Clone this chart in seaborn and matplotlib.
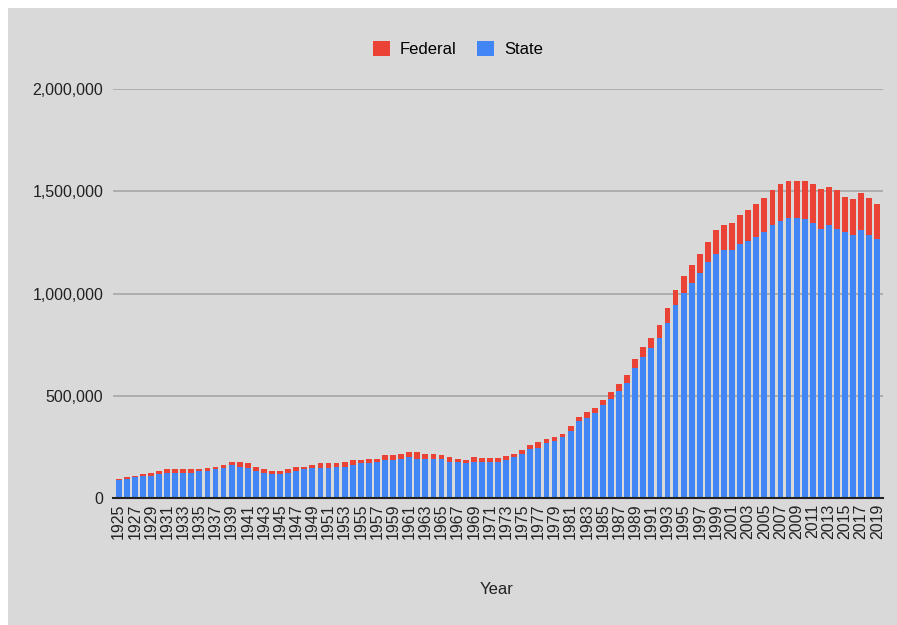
import numpy as np
import pandas as pd
import seaborn as sns
import matplotlib.pyplot as plt
from matplotlib.patches import Rectangle, Patch

# prisoners under jurisdiction (thousands)
years = list(range(1925, 2020))
state = [87, 95, 101, 108, 108, 116, 124, 124, 124, 124,
         131, 132, 140, 147, 161, 153, 147, 131, 124, 116,
         116, 124, 132, 140, 147, 147, 147, 153, 153, 161,
         170, 170, 178, 186, 186, 193, 200, 193, 193, 193,
         193, 178, 178, 170, 178, 176, 176, 176, 184, 200,
         214, 238, 246, 267, 279, 298, 328, 377, 390, 414,
         453, 483, 523, 561, 634, 691, 735, 781, 858, 944,
         1004, 1050, 1102, 1156, 1195, 1211, 1211, 1241, 1257, 1278,
         1301, 1333, 1355, 1371, 1369, 1363, 1347, 1317, 1333, 1317,
         1301, 1286, 1309, 1286, 1265]
federal = [6, 6, 9, 8, 16, 16, 16, 16, 16, 16,
           9, 15, 13, 14, 17, 25, 23, 22, 16, 14,
           14, 16, 21, 13, 14, 23, 23, 17, 25, 25,
           16, 23, 15, 23, 23, 22, 23, 30, 22, 22,
           16, 22, 15, 16, 22, 21, 21, 21, 21, 14,
           21, 20, 28, 23, 19, 17, 24, 21, 30, 28,
           26, 35, 33, 40, 44, 49, 49, 65, 73, 72,
           82, 88, 90, 98, 114, 126, 136, 141, 150, 158,
           165, 172, 182, 179, 181, 187, 190, 196, 188, 188,
           173, 175, 181, 180, 171]

df = pd.DataFrame({"Year": [str(y) for y in years],
                   "State": np.array(state) * 1000,
                   "Federal": np.array(federal) * 1000})
df["Total"] = df["State"] + df["Federal"]

bg = "#d9d9d9"
red = "#ea4335"
blue = "#4285f4"

plt.rcParams['font.family'] = ['Liberation Sans', 'DejaVu Sans']
fig = plt.figure(figsize=(8.97, 6.25), dpi=100, facecolor="white")
fig.patches.append(Rectangle((8 / 897, 0), 1, 1 - 8 / 625, transform=fig.transFigure,
                             facecolor=bg, edgecolor="none", zorder=-1))
ax = fig.add_axes([113 / 897, 1 - 498 / 625, 770 / 897, 409 / 625])
ax.set_facecolor(bg)

# stacked look: total in red, state drawn over it in blue
sns.barplot(data=df, x="Year", y="Total", color=red, saturation=1, width=0.72, ax=ax)
sns.barplot(data=df, x="Year", y="State", color=blue, saturation=1, width=0.72, ax=ax)

ax.set_ylim(0, 2000000)
ax.set_yticks([0, 500000, 1000000, 1500000, 2000000])
ax.set_yticklabels(["0", "500,000", "1,000,000", "1,500,000", "2,000,000"], fontsize=11.5, color="#222222")
ax.set_xlim(-0.7, len(years) - 0.3)
ax.set_xticks(range(0, len(years), 2))
ax.set_xticklabels(df["Year"][::2], rotation=90, fontsize=11.5, color="#222222")
ax.tick_params(axis="both", length=0)
ax.tick_params(axis="y", pad=7)
ax.tick_params(axis="x", pad=4)
ax.grid(axis="y", color="#a6a6a6", linewidth=1.2)
ax.set_axisbelow(True)
for s in ["top", "right", "left"]:
    ax.spines[s].set_visible(False)
ax.spines["bottom"].set_color("#222222")
ax.spines["bottom"].set_linewidth(1.5)
ax.spines["bottom"].set_zorder(5)
ax.set_ylabel("")
ax.set_xlabel("")
fig.text(497 / 897, 1 - 590 / 625, "Year", ha="center", va="center", fontsize=12, color="#222222")

handles = [Patch(facecolor=red, label="Federal"), Patch(facecolor=blue, label="State")]
fig.legend(handles=handles, loc="center", bbox_to_anchor=(458 / 897, 1 - 49 / 625), ncol=2,
           frameon=False, fontsize=12, handlelength=1.0, handleheight=1.0,
           handletextpad=0.6, columnspacing=1.25)

fig.savefig("out.png", dpi=100, facecolor="white")
